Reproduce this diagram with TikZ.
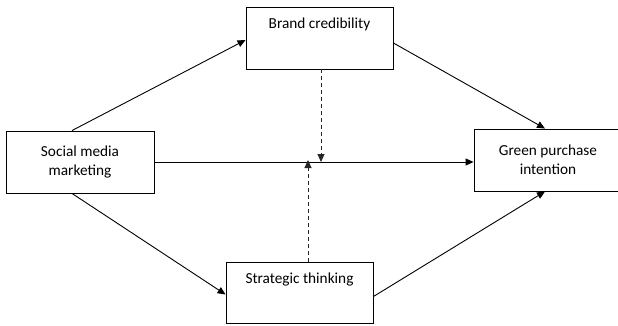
\documentclass[tikz,border=0pt]{standalone}
\usepackage{fontspec}
\setmainfont{Carlito}
\usetikzlibrary{arrows.meta,positioning,calc}

\begin{document}
\begin{tikzpicture}[
        x=1pt, y=-1pt,
        font=\fontsize{15.3}{19}\selectfont,
        block/.style={rectangle, draw, line width=0.9pt, minimum width=148pt, minimum height=62pt, align=center, inner sep=0pt},
        arrow/.style={-{Triangle[length=8pt,width=7pt]}, line width=0.9pt},
        dasharrow/.style={arrow, dashed, dash pattern=on 4pt off 3pt, black!85}
    ]
        \useasboundingbox (0,0) rectangle (618,325);

        % Variable blocks
        \node[block] (smm) at (80,162) {Social media\\marketing};
        \node[block, minimum width=147pt] (brand) at (319.5,38) {Brand credibility\\[10pt]\mbox{}};
        \node[block] (green) at (548,160) {Green purchase\\intention};
        \node[block, minimum width=147pt, minimum height=61pt] (strat) at (299.5,292.5) {Strategic thinking\\[10pt]\mbox{}};

        % Paths
        \draw[arrow] ([xshift=-8pt]smm.north) -- ([yshift=-2pt]brand.west);
        \draw[arrow] ([yshift=-5pt]brand.east) -- ([xshift=-3pt]green.north);
        \draw[arrow] ([xshift=-8pt]smm.south) -- ([yshift=-2pt]strat.west);
        \draw[arrow] ([yshift=-4pt]strat.east) -- ([xshift=-3pt]green.south);
        \draw[arrow] (smm.east) -- (smm.east -| green.west);

        % Moderation
        \draw[dasharrow] ([xshift=1.5pt]brand.south) -- ([xshift=1.5pt]brand.south |- smm.east);
        \draw[dasharrow] ([xshift=8.5pt]strat.north) -- ([xshift=8.5pt,yshift=2pt]strat.north |- smm.east);

    \end{tikzpicture}
\end{document}
